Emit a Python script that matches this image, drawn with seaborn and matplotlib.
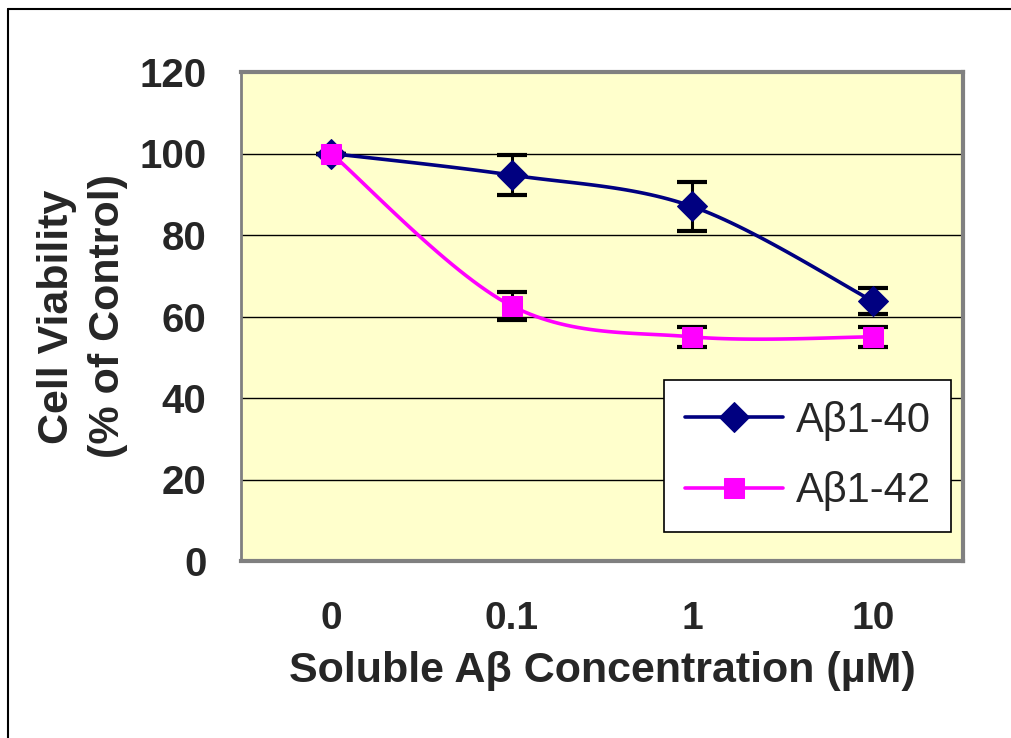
import numpy as np
import pandas as pd
import seaborn as sns
import matplotlib.pyplot as plt
from matplotlib.lines import Line2D

concs = ['0', '0.1', '1', '10']
ab40 = [100, 94.7, 87, 63.8]
ab40_err = [0, 5, 6, 3.3]
ab42 = [100, 62.6, 55, 55]
ab42_err = [0, 3.4, 2.5, 2.5]
yticks = [0, 20, 40, 60, 80, 100, 120]


def smooth(vals, n=30):
    # excel-like smoothed line (bezier through points)
    p = np.column_stack([np.arange(len(vals)), vals]).astype(float)
    pts = []
    for i in range(len(p) - 1):
        p0 = p[max(i - 1, 0)]
        p1 = p[i]
        p2 = p[i + 1]
        p3 = p[min(i + 2, len(p) - 1)]
        c1 = p1 + (p2 - p0) / 6
        c2 = p2 - (p3 - p1) / 6
        t = np.linspace(0, 1, n, endpoint=False)[:, None]
        seg = ((1 - t) ** 3) * p1 + 3 * ((1 - t) ** 2) * t * c1 + 3 * (1 - t) * t ** 2 * c2 + t ** 3 * p2
        pts.append(seg)
    pts.append(p[-1:])
    pts = np.vstack(pts)
    return pts[:, 0], pts[:, 1], list(range(0, len(pts), n))


sns.set_style('white')
plt.rcParams['font.family'] = ['Liberation Sans', 'DejaVu Sans']

fig = plt.figure(figsize=(10.11, 7.38), dpi=100)
fig.patch.set_linewidth(0)
ax = fig.add_axes([241 / 1011, 1 - 561 / 738, (963 - 241) / 1011, (561 - 72) / 738])
ax.set_facecolor('#FFFFCC')

# outer chart frame (only top and left edges are inside the picture)
fx, fy = 7.5 / 1011, 1 - 8.5 / 738
fig.lines.append(Line2D([fx, 1.0], [fy, fy], transform=fig.transFigure, color='black', linewidth=1.5))
fig.lines.append(Line2D([fx, fx], [0.0, fy], transform=fig.transFigure, color='black', linewidth=1.5))

x = np.arange(len(concs))
ax.errorbar(x, ab40, yerr=ab40_err, fmt='none', ecolor='black', elinewidth=2.2,
            capsize=10.5, capthick=3, zorder=2)
ax.errorbar(x, ab42, yerr=ab42_err, fmt='none', ecolor='black', elinewidth=2.2,
            capsize=10.5, capthick=3, zorder=2)

sx, sy, idx = smooth(ab40)
sns.lineplot(x=sx, y=sy, sort=False, estimator=None, ax=ax, color='#000080', linewidth=2.6,
             marker='D', markersize=15, markevery=idx, markeredgecolor='#000080',
             label='Aβ1-40', zorder=3)
sx, sy, idx = smooth(ab42)
sns.lineplot(x=sx, y=sy, sort=False, estimator=None, ax=ax, color='#FF00FF', linewidth=2.6,
             marker='s', markersize=14, markevery=idx, markeredgecolor='#FF00FF',
             label='Aβ1-42', zorder=4)

ax.set_xlim(-0.5, len(concs) - 0.5)
ax.set_ylim(0, 120)
ax.set_yticks(yticks)
ax.set_yticklabels([str(v) for v in yticks], fontsize=29, fontweight='bold')
ax.set_xticks(x)
ax.set_xticklabels(concs, fontsize=28, fontweight='bold')
ax.set_xticks(np.arange(len(concs) + 1) - 0.5, minor=True)
ax.tick_params(axis='x', which='major', length=0, pad=29)
ax.tick_params(axis='x', which='minor', length=12, width=1, color='black', direction='out')
ax.tick_params(axis='y', length=8, width=1, color='black', direction='out', pad=17)
ax.yaxis.grid(True, color='black', linewidth=1)
ax.set_axisbelow(True)
for s in ax.spines.values():
    s.set_color('#808080')
    s.set_linewidth(3)
ax.spines['left'].set_linewidth(2)

ax.set_xlabel('Soluble Aβ Concentration (µM)', fontsize=31, fontweight='bold', labelpad=10)
ax.set_ylabel('Cell Viability\n(% of Control)', fontsize=31, fontweight='bold', labelpad=8,
              linespacing=1.35)

leg = ax.legend(loc='lower right', bbox_to_anchor=(0.984, 0.059), fontsize=30, frameon=True,
                fancybox=False, edgecolor='black', framealpha=1, handlelength=2.35,
                borderpad=0.5, labelspacing=0.73, handletextpad=0.3, borderaxespad=0)
leg.get_frame().set_linewidth(1.2)

fig.savefig('out.png', dpi=100)
